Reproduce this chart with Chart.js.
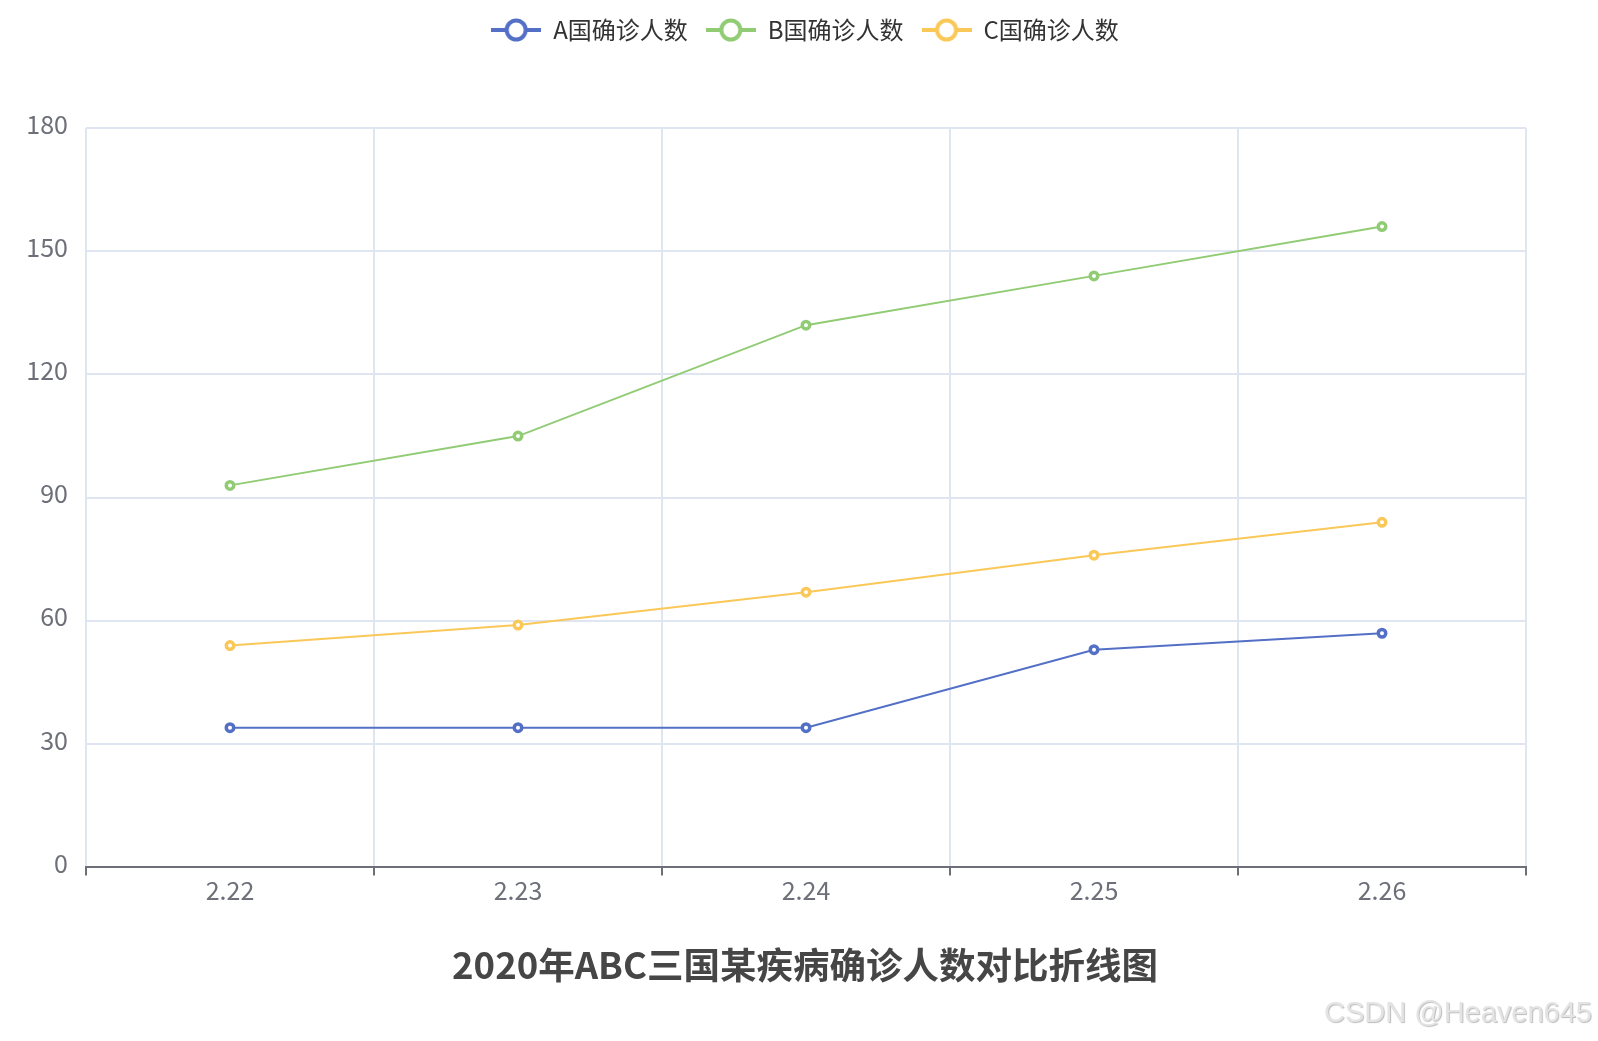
<!DOCTYPE html>
<html>
<head>
<meta charset="utf-8">
<script src="https://cdn.jsdelivr.net/npm/chart.js@4/dist/chart.umd.min.js"></script>
<style>
  html, body { margin: 0; padding: 0; background: #fff; }
  #wrap { position: relative; width: 1598px; height: 1041px; }
  #mark {
    position: absolute; right: 6px; top: 996px;
    font: 29px "Liberation Sans", Arial, sans-serif;
    color: #e4e4e4;
    text-shadow: 1px 1px 1px #bcbcbc;
  }
</style>
</head>
<body>
<div id="wrap">
  <canvas id="myChart" width="1598" height="1041"></canvas>
  <div id="mark">CSDN @Heaven645</div>
</div>
<script>
const dates = ['2.22', '2.23', '2.24', '2.25', '2.26'];
const countryA = [34, 34, 34, 53, 57];
const countryB = [93, 105, 132, 144, 156];
const countryC = [54, 59, 67, 76, 84];
const seriesNames = ['A国确诊人数', 'B国确诊人数', 'C国确诊人数'];
const colors = ['#5470c6', '#91cc75', '#fac858'];

const font = "'Noto Sans CJK SC', 'Noto Sans', sans-serif";
const gridColor = '#E0E6F1';
const axisColor = '#6E7079';

// echarts-like legend icon: line with a hollow circle
function legendIcon(color) {
  const c = document.createElement('canvas');
  c.width = 50; c.height = 28;
  const g = c.getContext('2d');
  g.strokeStyle = color;
  g.lineWidth = 4;
  g.beginPath(); g.moveTo(0, 14); g.lineTo(50, 14); g.stroke();
  g.beginPath(); g.arc(25, 14, 9.5, 0, Math.PI * 2);
  g.fillStyle = '#fff'; g.fill(); g.stroke();
  return c;
}
const icons = colors.map(legendIcon);

function series(i, values) {
  return {
    label: seriesNames[i],
    data: values,
    borderColor: colors[i],
    backgroundColor: '#fff',
    borderWidth: 2,
    tension: 0,
    pointRadius: 3.75,
    pointBorderWidth: 3.5,
    pointBackgroundColor: '#fff',
    pointBorderColor: colors[i]
  };
}

const legendSpace = {
  id: 'legendSpace',
  beforeInit(chart) {
    const fit = chart.legend.fit;
    chart.legend.fit = function () { fit.call(this); this.height = 128; };
  }
};

let ctx = document.getElementById('myChart').getContext('2d');
let chart = new Chart(ctx, {
  type: 'line',
  data: {
    labels: dates,
    datasets: [series(0, countryA), series(1, countryB), series(2, countryC)]
  },
  options: {
    responsive: false,
    animation: false,
    events: [],
    layout: { padding: { left: 12, right: 0, top: 0, bottom: 0 } },
    scales: {
      x: {
        offset: true,
        grid: { offset: true, color: gridColor, lineWidth: 2, tickColor: axisColor, tickWidth: 2, tickLength: 8 },
        border: { color: axisColor, width: 2 },
        ticks: { color: axisColor, padding: 0, font: { family: font, size: 25 } },
        afterFit(s) { s.height = 75.8; }
      },
      y: {
        min: 0, max: 180,
        grid: { color: gridColor, lineWidth: 2, drawTicks: false },
        border: { display: false },
        ticks: { stepSize: 30, color: axisColor, padding: 18, labelOffset: -4, font: { family: font, size: 25 } },
        afterFit(s) { s.width = 74; }
      },
      spacer: {
        position: 'right',
        grid: { display: false },
        border: { display: false },
        ticks: { display: false },
        afterFit(s) { s.width = 72; }
      }
    },
    plugins: {
      legend: {
        position: 'top',
        labels: {
          usePointStyle: true,
          pointStyleWidth: 50,
          padding: 18,
          color: '#333',
          font: { family: font, size: 24 },
          generateLabels(chart) {
            const items = Chart.defaults.plugins.legend.labels.generateLabels(chart);
            items.forEach((it, i) => { it.pointStyle = icons[i]; });
            return items;
          }
        }
      },
      title: {
        display: true,
        position: 'bottom',
        text: '2020年ABC三国某疾病确诊人数对比折线图',
        color: '#464646',
        font: { family: font, size: 36.5, weight: 'bold' },
        padding: { top: 0, bottom: 54 }
      },
      tooltip: { enabled: false }
    }
  },
  plugins: [legendSpace]
});
</script>
</body>
</html>
